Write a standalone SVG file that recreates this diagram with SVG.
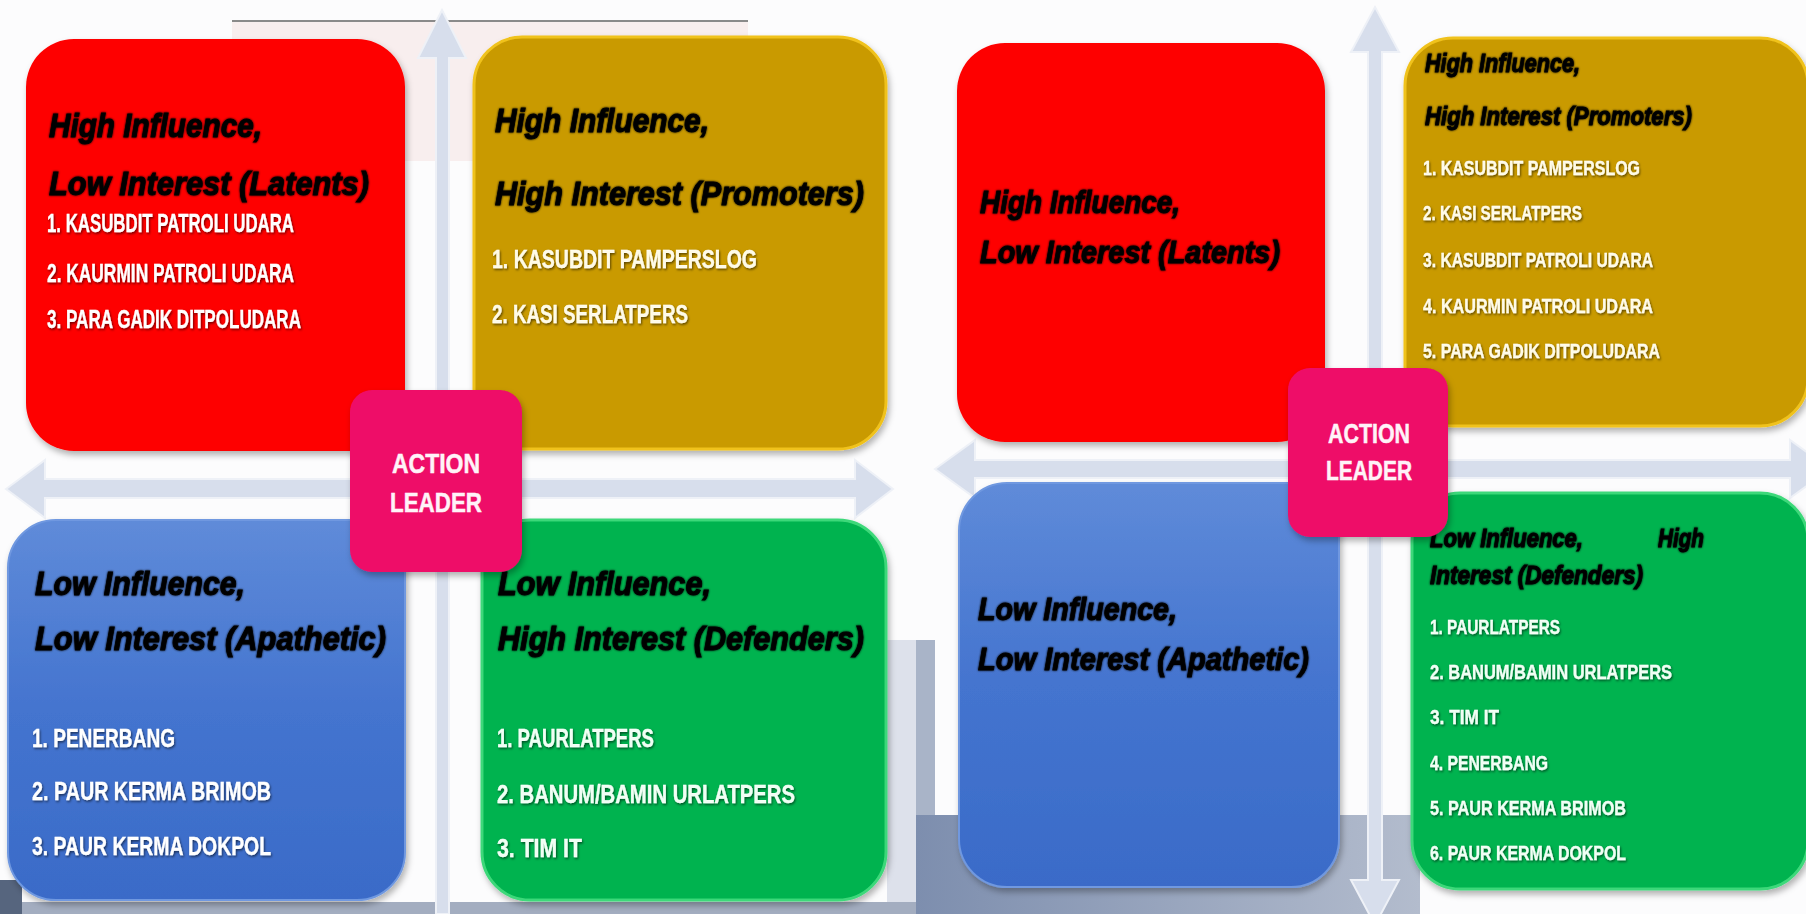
<svg xmlns="http://www.w3.org/2000/svg" width="1806" height="914" viewBox="0 0 1806 914">
<defs>
<style>
.hd{font-family:"Liberation Sans",Arial,sans-serif;font-weight:bold;font-style:italic;fill:#000;stroke:#000;stroke-width:0.9;filter:url(#hs)}
.it{font-family:"Liberation Sans Narrow","Liberation Sans",Arial,sans-serif;font-weight:bold;fill:#fff;stroke:#fff;stroke-width:0.3;filter:url(#ts)}
.al{font-family:"Liberation Sans",Arial,sans-serif;font-weight:bold;fill:#fff3f8;stroke:#fff3f8;stroke-width:0.5;text-anchor:middle}
.arrow{fill:#d7deec;stroke:#eef1f7;stroke-width:2}
.box{filter:url(#bs)}
</style>
<filter id="bs" x="-10%" y="-10%" width="120%" height="120%"><feDropShadow dx="2" dy="4" stdDeviation="3" flood-color="#000" flood-opacity="0.3"/></filter>
<filter id="ts" x="-5%" y="-30%" width="110%" height="160%"><feDropShadow dx="1" dy="1.5" stdDeviation="1" flood-color="#000" flood-opacity="0.55"/></filter>
<filter id="hs" x="-5%" y="-30%" width="110%" height="160%"><feGaussianBlur in="SourceGraphic" stdDeviation="1.2" result="b"/><feMerge><feMergeNode in="b"/><feMergeNode in="SourceGraphic"/></feMerge></filter>
<linearGradient id="blueG" x1="0" y1="0" x2="0" y2="1"><stop offset="0" stop-color="#5f8bd9"/><stop offset="0.5" stop-color="#4474cf"/><stop offset="1" stop-color="#3a6bc8"/></linearGradient>
<linearGradient id="slate" x1="0" y1="0" x2="1" y2="0"><stop offset="0" stop-color="#7d8eae"/><stop offset="1" stop-color="#b3bccd"/></linearGradient>
</defs>

<!-- backgrounds -->
<rect x="0" y="0" width="1806" height="914" fill="#fcfcfd"/>
<rect x="232" y="21" width="516" height="140" fill="#f8eeee"/>
<line x1="232" y1="21" x2="748" y2="21" stroke="#8a8a8a" stroke-width="2"/>
<rect x="887" y="640" width="29" height="274" fill="#dde1eb"/>
<rect x="0" y="902" width="916" height="12" fill="#a3adc0"/>
<rect x="0" y="880" width="22" height="34" fill="#56657e"/>
<rect x="916" y="640" width="19" height="274" fill="#a9b4c8"/>
<rect x="916" y="815" width="504" height="99" fill="url(#slate)"/>

<g id="connectors">
  <!-- left panel axes -->
  <path class="arrow" d="M436,914 L436,58 L418,58 L442,10 L466,58 L449,58 L449,914 Z"/>
  <path class="arrow" d="M6,489 L45,460 L45,479 L855,479 L855,460 L893,489 L855,518 L855,498 L45,498 L45,518 Z"/>
  <!-- right panel axes -->
  <path class="arrow" d="M1368,880 L1368,52 L1351,52 L1375,7 L1399,52 L1382,52 L1382,880 L1399,880 L1375,925 L1351,880 Z"/>
  <path class="arrow" d="M935,469 L975,440 L975,460 L1790,460 L1790,440 L1830,469 L1790,498 L1790,478 L975,478 L975,498 Z"/>
</g>

<!-- LEFT PANEL -->
<g id="left-latents">
  <rect class="box" x="26" y="39" width="379" height="412" rx="48" fill="#fe0000"/>
  <text class="hd" x="49" y="137" font-size="33" textLength="213" lengthAdjust="spacingAndGlyphs">High Influence,</text>
  <text class="hd" x="49" y="195" font-size="33" textLength="320" lengthAdjust="spacingAndGlyphs">Low Interest (Latents)</text>
  <text class="it" x="47" y="232" font-size="25" textLength="247" lengthAdjust="spacingAndGlyphs">1. KASUBDIT PATROLI UDARA</text>
  <text class="it" x="47" y="282" font-size="25" textLength="247" lengthAdjust="spacingAndGlyphs">2. KAURMIN PATROLI UDARA</text>
  <text class="it" x="47" y="328" font-size="25" textLength="254" lengthAdjust="spacingAndGlyphs">3. PARA GADIK DITPOLUDARA</text>
</g>
<g id="left-promoters">
  <rect class="box" x="474" y="37" width="412" height="412" rx="48" fill="#c99a04" stroke="#f0c21a" stroke-width="3"/>
  <text class="hd" x="495" y="132" font-size="33" textLength="214" lengthAdjust="spacingAndGlyphs">High Influence,</text>
  <text class="hd" x="495" y="205" font-size="33" textLength="369" lengthAdjust="spacingAndGlyphs">High Interest (Promoters)</text>
  <text class="it" x="492" y="268" font-size="25" textLength="265" lengthAdjust="spacingAndGlyphs" style="fill:#fffbe6">1.  KASUBDIT PAMPERSLOG</text>
  <text class="it" x="492" y="323" font-size="25" textLength="196" lengthAdjust="spacingAndGlyphs" style="fill:#fffbe6">2.  KASI SERLATPERS</text>
</g>
<g id="left-apathetic">
  <rect class="box" x="8" y="520" width="397" height="380" rx="48" fill="url(#blueG)" stroke="#6f98e0" stroke-width="2"/>
  <text class="hd" x="35" y="595" font-size="33" textLength="210" lengthAdjust="spacingAndGlyphs">Low Influence,</text>
  <text class="hd" x="35" y="650" font-size="33" textLength="351" lengthAdjust="spacingAndGlyphs">Low Interest (Apathetic)</text>
  <text class="it" x="32" y="747" font-size="25" textLength="143" lengthAdjust="spacingAndGlyphs">1. PENERBANG</text>
  <text class="it" x="32" y="800" font-size="25" textLength="239" lengthAdjust="spacingAndGlyphs">2. PAUR KERMA BRIMOB</text>
  <text class="it" x="32" y="855" font-size="25" textLength="239" lengthAdjust="spacingAndGlyphs">3. PAUR KERMA DOKPOL</text>
</g>
<g id="left-defenders">
  <rect class="box" x="482" y="520" width="404" height="380" rx="48" fill="#00b34f" stroke="#3ed87a" stroke-width="3"/>
  <text class="hd" x="498" y="595" font-size="33" textLength="213" lengthAdjust="spacingAndGlyphs">Low Influence,</text>
  <text class="hd" x="498" y="650" font-size="33" textLength="366" lengthAdjust="spacingAndGlyphs">High Interest (Defenders)</text>
  <text class="it" x="497" y="747" font-size="25" textLength="157" lengthAdjust="spacingAndGlyphs" style="fill:#f0fff4">1. PAURLATPERS</text>
  <text class="it" x="497" y="803" font-size="25" textLength="298" lengthAdjust="spacingAndGlyphs" style="fill:#f0fff4">2. BANUM/BAMIN URLATPERS</text>
  <text class="it" x="497" y="857" font-size="25" textLength="85" lengthAdjust="spacingAndGlyphs" style="fill:#f0fff4">3. TIM IT</text>
</g>
<g id="left-action-leader">
  <rect class="box" x="350" y="390" width="172" height="182" rx="22" fill="#ee0c68"/>
  <text class="al" x="436" y="473" font-size="28" textLength="88" lengthAdjust="spacingAndGlyphs">ACTION</text>
  <text class="al" x="436" y="512" font-size="28" textLength="92" lengthAdjust="spacingAndGlyphs">LEADER</text>
</g>

<!-- RIGHT PANEL -->
<g id="right-latents">
  <rect class="box" x="957" y="43" width="368" height="399" rx="48" fill="#fe0000"/>
  <text class="hd" x="980" y="213" font-size="32" textLength="200" lengthAdjust="spacingAndGlyphs">High Influence,</text>
  <text class="hd" x="980" y="263" font-size="32" textLength="300" lengthAdjust="spacingAndGlyphs">Low Interest (Latents)</text>
</g>
<g id="right-promoters">
  <rect class="box" x="1405" y="38" width="403" height="388" rx="48" fill="#c99a04" stroke="#f0c21a" stroke-width="3"/>
  <text class="hd" x="1425" y="72" font-size="26" textLength="155" lengthAdjust="spacingAndGlyphs">High Influence,</text>
  <text class="hd" x="1425" y="125" font-size="26" textLength="267" lengthAdjust="spacingAndGlyphs">High Interest (Promoters)</text>
  <text class="it" x="1423" y="175" font-size="21" textLength="217" lengthAdjust="spacingAndGlyphs" style="fill:#fffbe6">1.  KASUBDIT PAMPERSLOG</text>
  <text class="it" x="1423" y="220" font-size="21" textLength="159" lengthAdjust="spacingAndGlyphs" style="fill:#fffbe6">2.  KASI SERLATPERS</text>
  <text class="it" x="1423" y="267" font-size="21" textLength="230" lengthAdjust="spacingAndGlyphs" style="fill:#fffbe6">3. KASUBDIT PATROLI UDARA</text>
  <text class="it" x="1423" y="313" font-size="21" textLength="230" lengthAdjust="spacingAndGlyphs" style="fill:#fffbe6">4. KAURMIN PATROLI UDARA</text>
  <text class="it" x="1423" y="358" font-size="21" textLength="237" lengthAdjust="spacingAndGlyphs" style="fill:#fffbe6">5. PARA GADIK DITPOLUDARA</text>
</g>
<g id="right-apathetic">
  <rect class="box" x="959" y="483" width="380" height="404" rx="48" fill="url(#blueG)" stroke="#6f98e0" stroke-width="2"/>
  <text class="hd" x="978" y="620" font-size="32" textLength="199" lengthAdjust="spacingAndGlyphs">Low Influence,</text>
  <text class="hd" x="978" y="670" font-size="32" textLength="331" lengthAdjust="spacingAndGlyphs">Low Interest (Apathetic)</text>
</g>
<g id="right-defenders">
  <rect class="box" x="1412" y="493" width="396" height="396" rx="48" fill="#00b34f" stroke="#3ed87a" stroke-width="3"/>
  <text class="hd" x="1430" y="547" font-size="26" textLength="153" lengthAdjust="spacingAndGlyphs">Low Influence,</text>
  <text class="hd" x="1658" y="547" font-size="26" textLength="46" lengthAdjust="spacingAndGlyphs">High</text>
  <text class="hd" x="1430" y="584" font-size="26" textLength="213" lengthAdjust="spacingAndGlyphs">Interest (Defenders)</text>
  <text class="it" x="1430" y="634" font-size="21" textLength="130" lengthAdjust="spacingAndGlyphs" style="fill:#f0fff4">1. PAURLATPERS</text>
  <text class="it" x="1430" y="679" font-size="21" textLength="242" lengthAdjust="spacingAndGlyphs" style="fill:#f0fff4">2. BANUM/BAMIN URLATPERS</text>
  <text class="it" x="1430" y="724" font-size="21" textLength="69" lengthAdjust="spacingAndGlyphs" style="fill:#f0fff4">3. TIM IT</text>
  <text class="it" x="1430" y="770" font-size="21" textLength="118" lengthAdjust="spacingAndGlyphs" style="fill:#f0fff4">4. PENERBANG</text>
  <text class="it" x="1430" y="815" font-size="21" textLength="196" lengthAdjust="spacingAndGlyphs" style="fill:#f0fff4">5. PAUR KERMA BRIMOB</text>
  <text class="it" x="1430" y="860" font-size="21" textLength="196" lengthAdjust="spacingAndGlyphs" style="fill:#f0fff4">6. PAUR KERMA DOKPOL</text>
</g>
<g id="right-action-leader">
  <rect class="box" x="1288" y="368" width="160" height="169" rx="22" fill="#ee0c68"/>
  <text class="al" x="1369" y="443" font-size="27" textLength="82" lengthAdjust="spacingAndGlyphs">ACTION</text>
  <text class="al" x="1369" y="480" font-size="27" textLength="86" lengthAdjust="spacingAndGlyphs">LEADER</text>
</g>
</svg>
